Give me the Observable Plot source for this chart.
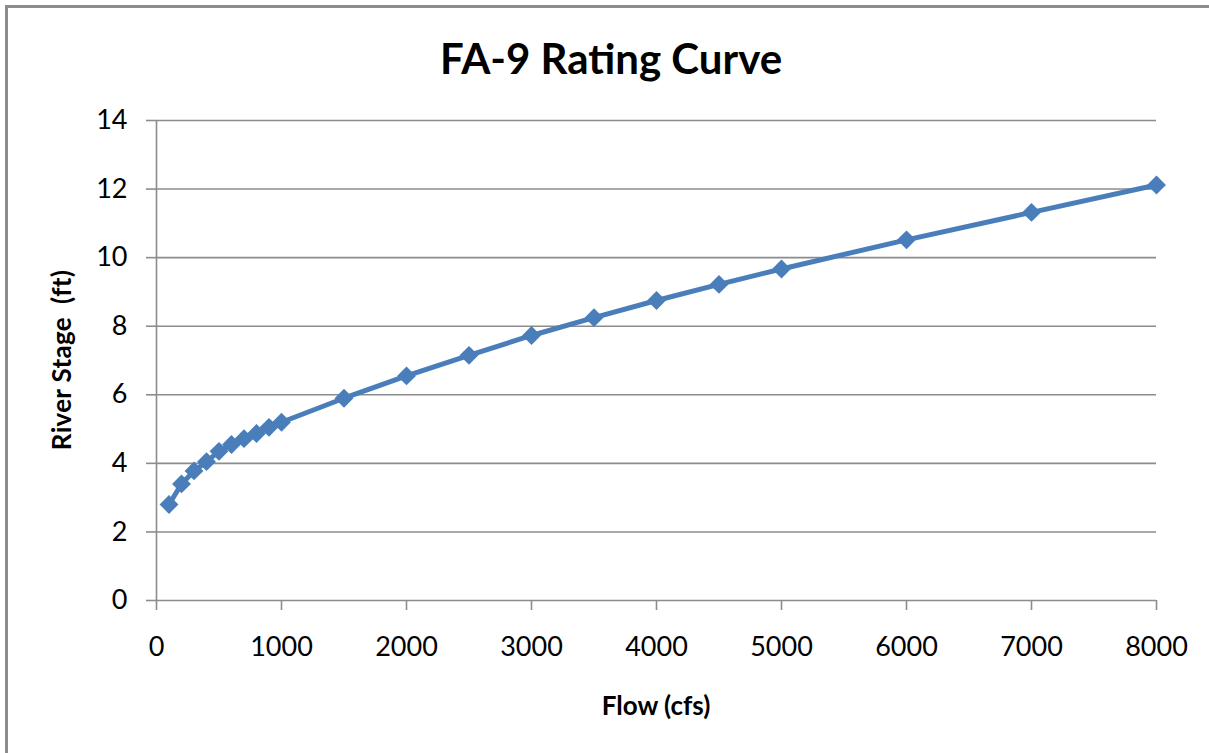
<!DOCTYPE html>
<html>
<head>
<meta charset="utf-8">
<script src="https://cdn.jsdelivr.net/npm/d3@7"></script>
<script src="https://cdn.jsdelivr.net/npm/@observablehq/plot@0.6"></script>
<style>
  html, body { margin: 0; padding: 0; background: #fff; overflow: hidden; }
  #wrap { position: relative; width: 1209px; height: 753px; }
  #frame { position: absolute; left: 5px; top: 5px; width: 1400px; height: 1000px;
           border-left: 3px solid #8c8c8c; border-top: 3px solid #8c8c8c; }
  #chart { position: absolute; left: 0; top: 0; }
  .lbl { position: absolute; font-family: Lato, "Open Sans", sans-serif; font-weight: bold; color: #000; white-space: pre; }
  #title { left: 0; width: 1222px; text-align: center; top: 33px; font-size: 42px; line-height: 50px; }
  #xlabel { left: 0; width: 1312px; text-align: center; top: 690px; font-size: 26px; line-height: 30px; }
  #ylabel { left: 61px; top: 360px; font-size: 26px; line-height: 30px; letter-spacing: 0.3px; transform: translate(-50%, -50%) rotate(-90deg); }
</style>
</head>
<body>
<div id="wrap">
  <div id="frame"></div>
  <div id="chart"></div>
  <div class="lbl" id="title">FA-9 Rating Curve</div>
  <div class="lbl" id="xlabel">Flow (cfs)</div>
  <div class="lbl" id="ylabel">River Stage  (ft)</div>
</div>
<script>
const flow  = [100, 200, 300, 400, 500, 600, 700, 800, 900, 1000, 1500, 2000, 2500, 3000, 3500, 4000, 4500, 5000, 6000, 7000, 8000];
const stage = [2.8, 3.4, 3.78, 4.05, 4.35, 4.55, 4.72, 4.87, 5.05, 5.2, 5.9, 6.55, 7.15, 7.73, 8.25, 8.75, 9.22, 9.67, 10.52, 11.32, 12.12];
const xTicks = [0, 1000, 2000, 3000, 4000, 5000, 6000, 7000, 8000];
const yTicks = [0, 2, 4, 6, 8, 10, 12, 14];

const data = flow.map((f, i) => ({flow: f, stage: stage[i]}));
const gray = "#8c8c8c";
const blue = "#4a7ebb";

const plot = Plot.plot({
  width: 1209,
  height: 753,
  marginLeft: 156,
  marginRight: 53,
  marginTop: 120,
  marginBottom: 153,
  style: {fontFamily: "Lato, 'Open Sans', sans-serif", background: "transparent", color: "#000"},
  x: {domain: [0, 8000]},
  y: {domain: [0, 14]},
  marks: [
    Plot.gridY(yTicks, {stroke: gray, strokeOpacity: 1, strokeWidth: 1.6}),
    Plot.ruleX([0], {stroke: gray, strokeWidth: 1.6}),
    Plot.axisY(yTicks, {tickSize: 10, tickPadding: 19, fontSize: 27, stroke: gray, strokeWidth: 1.6, tickFormat: d => String(d), label: null}),
    Plot.axisX(xTicks, {tickSize: 10, tickPadding: 26, fontSize: 27, stroke: gray, strokeWidth: 1.6, tickFormat: d => String(d), label: null}),
    Plot.line(data, {x: "flow", y: "stage", stroke: blue, strokeWidth: 5}),
    Plot.dot(data, {x: "flow", y: "stage", symbol: "diamond2", fill: blue, r: 8.5, stroke: null})
  ]
});
plot.querySelectorAll("[aria-label='y-axis tick label'] text, [aria-label='x-axis tick label'] text").forEach(t => t.setAttribute("fill", "#000"));
document.getElementById("chart").appendChild(plot);
</script>
</body>
</html>
